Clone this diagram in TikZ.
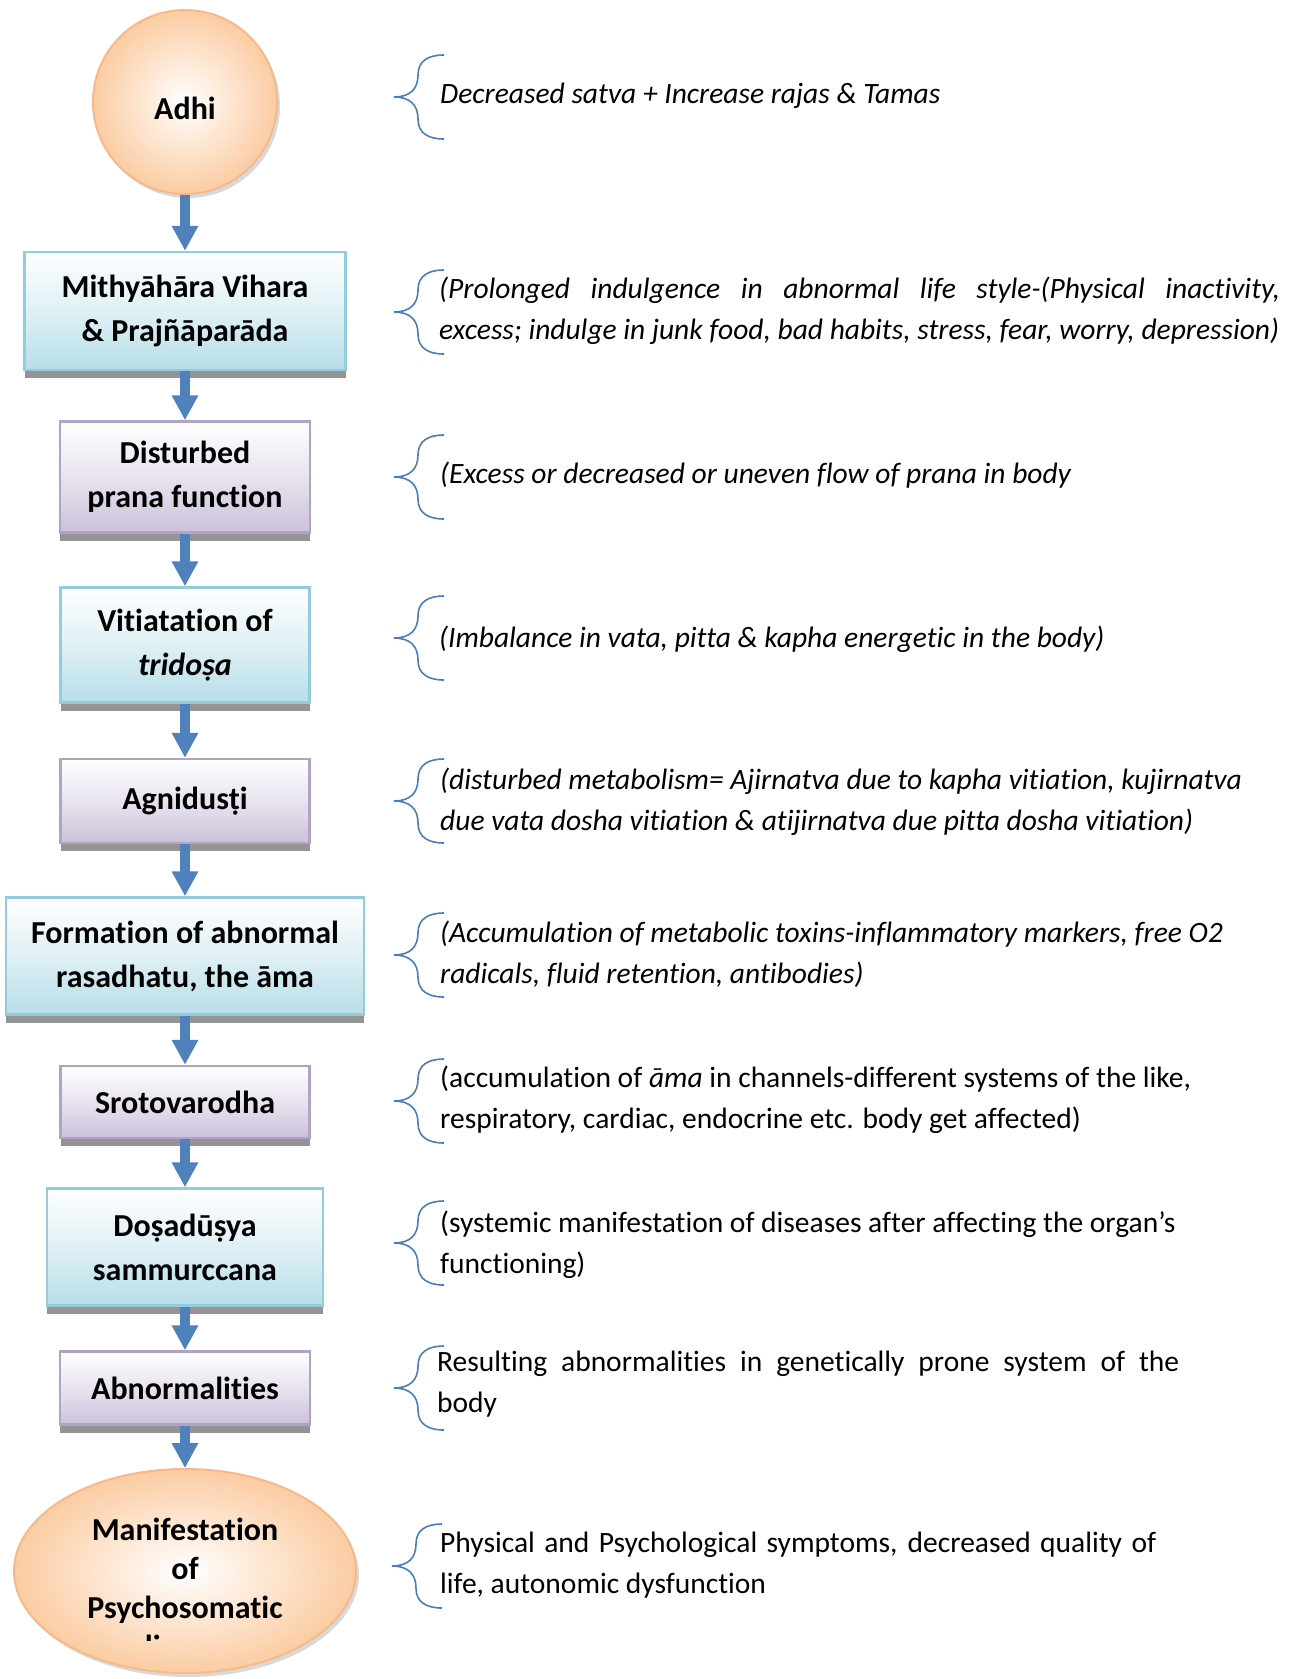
\documentclass[tikz,border=0pt]{standalone}
\usepackage{fontspec}
\setmainfont{Carlito}[Ligatures={NoCommon}]
\usetikzlibrary{shapes.geometric,arrows.meta,shadows}

\definecolor{arrowblue}{HTML}{4F81BD}
\definecolor{braceblue}{HTML}{4A7EBB}
\definecolor{aqualine}{HTML}{93CDDD}
\definecolor{aquafill}{HTML}{B7DEE8}
\definecolor{lilacline}{HTML}{B3A2C7}
\definecolor{lilacfill}{HTML}{CCC1DA}
\definecolor{peachline}{HTML}{F7B98B}
\definecolor{peachfill}{HTML}{FBCCA2}

\tikzset{
    stage/.style={rectangle, line width=2.5pt, align=center, inner sep=0pt,
        font=\fontsize{32}{44}\selectfont\bfseries,
        drop shadow={shadow xshift=0pt, shadow yshift=-8pt, fill=black!42, opacity=1}},
    aquabox/.style={stage, draw=aqualine, top color=white, bottom color=aquafill, middle color=aquafill!45},
    lilacbox/.style={stage, draw=lilacline, top color=white, bottom color=lilacfill, middle color=lilacfill!45},
    peachround/.style={line width=2pt, draw=peachline, inner color=white, outer color=peachfill, inner sep=0pt,
        drop shadow={shadow xshift=3pt, shadow yshift=-4pt, opacity=.3}},
    flow/.style={draw=arrowblue, line width=10pt, -{Triangle[width=25pt,length=25pt]}},
    note/.style={anchor=west, align=left, inner sep=0pt, font=\fontsize{29.5}{41}\selectfont\itshape},
    plainnote/.style={note, font=\fontsize{29.5}{41}\selectfont\upshape},
    lbrace/.pic={\draw[braceblue, line width=1.6pt] (50,-42) .. controls (34,-42) and (24,-36) .. (24,-22)
        .. controls (24,-8) and (16,0) .. (0,0) .. controls (16,0) and (24,8) .. (24,22)
        .. controls (24,36) and (34,42) .. (50,42);}
}

\begin{document}
\begin{tikzpicture}[x=1pt, y=-1pt]
    \useasboundingbox (0,0) rectangle (1300,1679);

    \node[peachround, circle, minimum size=184pt, font=\fontsize{32}{44}\selectfont\bfseries] (adhi) at (185,102) {\raisebox{-17pt}[0pt][0pt]{Adhi}};
    \node[aquabox, minimum width=321pt, minimum height=118pt] (mithya) at (185,311) {Mithyāhāra Vihara\\\& Prajñāparāda};
    \node[lilacbox, minimum width=250pt, minimum height=111pt] (prana) at (185,477) {Disturbed\\prana function};
    \node[aquabox, minimum width=249pt, minimum height=115pt] (tridosa) at (185,645) {Vitiatation of\\\textit{tridoṣa}};
    \node[lilacbox, minimum width=249pt, minimum height=84pt] (agni) at (185,801) {Agnidusṭi};
    \node[aquabox, minimum width=358pt, minimum height=117pt] (ama) at (185,956) {Formation of abnormal\\rasadhatu, the āma};
    \node[lilacbox, minimum width=249pt, minimum height=72pt] (sroto) at (185,1102) {Srotovarodha};
    \node[aquabox, minimum width=276pt, minimum height=117pt] (dosa) at (185,1247) {Doṣadūṣya\\sammurccana};
    \node[lilacbox, minimum width=250pt, minimum height=73pt] (abnorm) at (185,1388) {Abnormalities};
    \node[peachround, ellipse, minimum width=342pt, minimum height=204pt] (manif) at (185,1571) {};
    \begin{scope}
        \clip (0,1460) rectangle (400,1640);
        \node[align=center, inner sep=0pt, font=\fontsize{32}{39}\selectfont\bfseries] (maniftext) at (185,1588)
            {Manifestation\\of\\Psychosomatic\\disease};
    \end{scope}

    \draw[flow] (adhi) -- (mithya);
    \draw[flow] (mithya) -- (prana);
    \draw[flow] (prana) -- (tridosa);
    \draw[flow] (tridosa) -- (agni);
    \draw[flow] (agni) -- (ama);
    \draw[flow] (ama) -- (sroto);
    \draw[flow] (sroto) -- (dosa);
    \draw[flow] (dosa) -- (abnorm);
    \draw[flow] (abnorm) -- (manif);

    \pic at (394,97) {lbrace};
    \node[note] (satva) at (440,96) {Decreased satva + Increase rajas \& Tamas};
    \pic at (394,312) {lbrace};
    \node[note] (lifestyle) at (439,311) {\makebox[841pt][s]{(Prolonged indulgence in abnormal life style-(Physical inactivity,}\\excess; indulge in junk food, bad habits, stress, fear, worry, depression)};
    \pic at (394,477) {lbrace};
    \node[note] (pranaflow) at (440,475) {(Excess or decreased or uneven flow of prana in body};
    \pic at (394,638) {lbrace};
    \node[note] (imbalance) at (439,639) {(Imbalance in vata, pitta \& kapha energetic in the body)};
    \pic at (394,801) {lbrace};
    \node[note] (metab) at (440,802) {(disturbed metabolism= Ajirnatva due to kapha vitiation, kujirnatva\\due vata dosha vitiation \& atijirnatva due pitta dosha vitiation)};
    \pic at (394,955) {lbrace};
    \node[note] (toxins) at (440,954) {(Accumulation of metabolic toxins-inflammatory markers, free O2\\radicals, fluid retention, antibodies)};
    \pic at (394,1101) {lbrace};
    \node[plainnote] (channels) at (440,1100) {(accumulation of \textit{āma} in channels-different systems of the like,\\respiratory, cardiac, endocrine etc. body get affected)};
    \pic at (394,1243) {lbrace};
    \node[plainnote] (systemic) at (440,1245) {(systemic manifestation of diseases after affecting the organ’s\\functioning)};
    \pic at (394,1388) {lbrace};
    \node[plainnote] (genetic) at (437,1384) {\makebox[742pt][s]{Resulting abnormalities in genetically prone system of the}\\body};
    \pic at (392,1566) {lbrace};
    \node[plainnote] (symptoms) at (440,1565) {\makebox[716pt][s]{Physical and Psychological symptoms, decreased quality of}\\life, autonomic dysfunction};
\end{tikzpicture}
\end{document}
